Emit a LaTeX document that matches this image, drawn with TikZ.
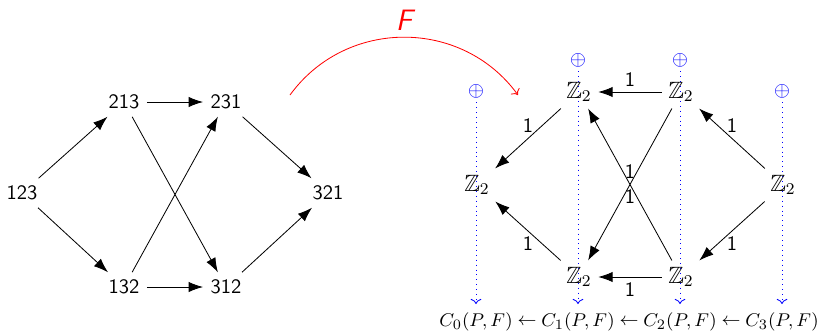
\documentclass[tikz,border=0pt]{standalone}
\usepackage{amsmath,amssymb}
\usepackage{xcolor}
\usetikzlibrary{positioning,arrows.meta,backgrounds}
\definecolor{cMap}{HTML}{FF0000}
\definecolor{cChain}{HTML}{0000FF}
\tikzset{
  perm/.style={font=\sffamily, inner sep=3.5pt},
  grp/.style={font=\fontsize{11.5}{13}\selectfont, inner sep=3pt},
  edge/.style={-{Latex[length=7pt,width=5pt]}},
  wt/.style={font=\sffamily, inner sep=2.5pt},
  sumMark/.style={text=cChain, inner sep=1pt},
  chainLine/.style={draw=cChain, dotted, ->, shorten <=1pt},
  chainTerm/.style={font=\fontsize{9.4}{11}\selectfont, inner sep=1pt},
}
\begin{document}
\begin{tikzpicture}[x=0.488pt, y=-0.488pt]
\useasboundingbox (0,0) rectangle (821,333);

% ========== LEFT: permutation poset ==========
\node[perm] (p123) at (22,193) {123};
\node[perm] (p213) at (124,102) {213};
\node[perm] (p231) at (226,102) {231};
\node[perm] (p132) at (124,287) {132};
\node[perm] (p312) at (226,287) {312};
\node[perm] (p321) at (328,193) {321};

\draw[edge] (p123) -- (p213);
\draw[edge] (p123) -- (p132);
\draw[edge] (p213) -- (p231);
\draw[edge] (p213) -- (p312);
\draw[edge] (p132) -- (p231);
\draw[edge] (p132) -- (p312);
\draw[edge] (p231) -- (p321);
\draw[edge] (p312) -- (p321);

% ========== MAP F ==========
\coordinate (Fsrc) at (290,95);
\coordinate (Ftgt) at (518,95);
\draw[cMap, ->] (Fsrc) .. controls (346,18) and (462,18) .. (Ftgt)
  node[midway, above, font=\Large\sffamily\itshape, text=cMap] (Flbl) {F};

% ========== RIGHT: chain complex ==========
\node[grp] (z0)  at (477,185) {$\mathbb{Z}_2$};
\node[grp] (z1a) at (579,92)  {$\mathbb{Z}_2$};
\node[grp] (z1b) at (579,277) {$\mathbb{Z}_2$};
\node[grp] (z2a) at (681,92)  {$\mathbb{Z}_2$};
\node[grp] (z2b) at (681,277) {$\mathbb{Z}_2$};
\node[grp] (z3)  at (783,185) {$\mathbb{Z}_2$};

\node[sumMark] (s0) at (476,91) {$\oplus$};
\node[sumMark] (s1) at (578,60) {$\oplus$};
\node[sumMark] (s2) at (680,60) {$\oplus$};
\node[sumMark] (s3) at (782,91) {$\oplus$};

\foreach \i/\x in {0/476,1/578,2/680,3/782}
  \coordinate (e\i) at (\x,304);

\begin{scope}[on background layer]
  \foreach \i in {0,1,2,3}
    \draw[chainLine] (s\i) -- (e\i);
\end{scope}

\draw[edge] (z2a) -- (z1a) node[wt, midway, above] {1};
\draw[edge] (z2b) -- (z1b) node[wt, midway, below] {1};
\draw[edge] (z1a) -- (z0)  node[wt, midway, above] {1};
\draw[edge] (z1b) -- (z0)  node[wt, midway, below] {1};
\draw[edge] (z3) -- (z2a)  node[wt, midway, above] {1};
\draw[edge] (z3) -- (z2b)  node[wt, midway, below] {1};
\draw[edge] (z2a) -- (z1b) node[wt, midway, above] {1};
\draw[edge] (z2b) -- (z1a) node[wt, midway, below] {1};

% chain groups under the columns
\foreach \i/\x in {0/476,1/578,2/680,3/782}
  \node[chainTerm] (c\i) at (\x,322) {$C_{\i}(P,F)$};
\foreach \x in {527,629,731}
  \node[chainTerm] at (\x,322) {$\leftarrow$};

\end{tikzpicture}
\end{document}
